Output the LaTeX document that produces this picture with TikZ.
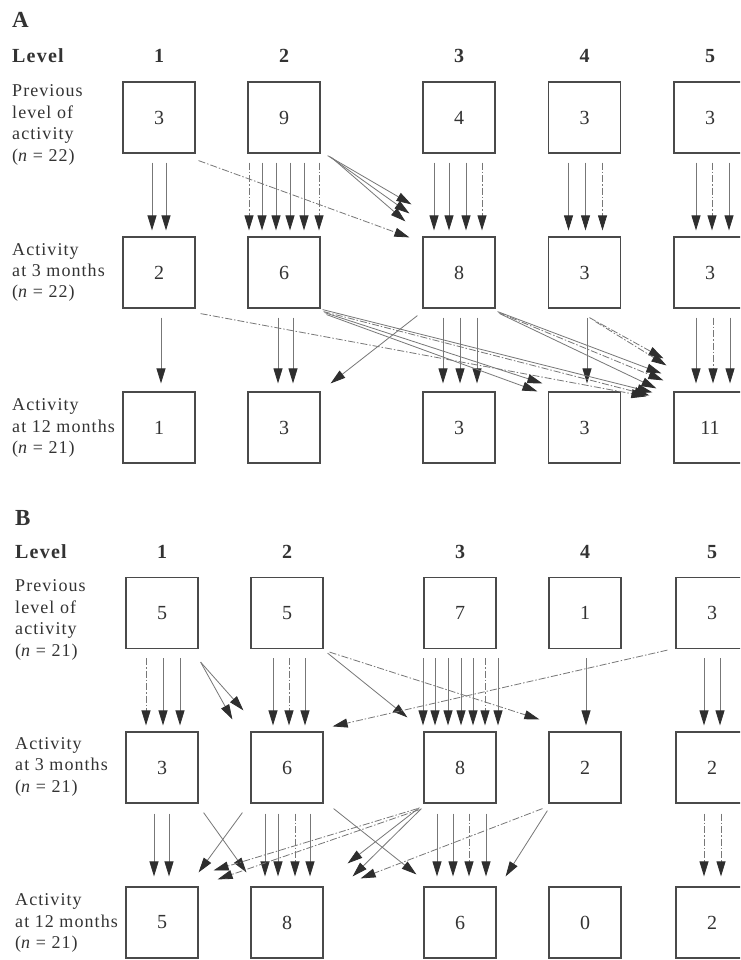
\documentclass[tikz,border=0pt]{standalone}
\usepackage{fontspec}
\setmainfont{Liberation Serif}
\newfontfamily\labfont[LetterSpace=6]{Liberation Serif}
\usetikzlibrary{arrows.meta}
\definecolor{ink}{HTML}{333333}
\definecolor{wire}{HTML}{777777}
\definecolor{tipc}{HTML}{2e2e2e}
\definecolor{frame}{HTML}{4a4a4a}

\begin{document}
\begin{tikzpicture}[x=1pt,y=-1pt,
  box/.style={draw=frame, line width=1.2pt, minimum width=72pt, minimum height=71pt,
    inner sep=0pt, font=\fontsize{20}{24}\selectfont, text=ink},
  lab/.style={anchor=base west, inner sep=0pt, font=\labfont\fontsize{18}{22}\selectfont, text=ink},
  head/.style={anchor=base, inner sep=0pt, font=\labfont\bfseries\fontsize{20}{24}\selectfont, text=ink},
  panel/.style={anchor=base west, inner sep=0pt, font=\bfseries\fontsize{23}{26}\selectfont, text=ink},
  arr/.style={draw=wire, line width=0.8pt, -{Triangle[length=15pt,width=9pt,color=tipc]}},
  dd/.style={dash pattern=on 7pt off 2pt on 1.5pt off 2pt},
]
\path[use as bounding box, clip] (0,0) rectangle (740,960);
\fill[white] (0,0) rectangle (740,960);

% ---------------- Panel A ----------------
\node[panel] (pA) at (12,28) {A};
\node[head, anchor=base west] (lvA) at (12,63) {Level};
\foreach \c/\x in {1/159,2/284,3/459,4/584.5,5/710}
  \node[head] (hA\c) at (\x,63) {\c};

\node[lab] (a1a) at (12,97) {Previous};
\node[lab] (a1b) at (12,118.5) {level of};
\node[lab] (a1c) at (12,140) {activity};
\node[lab] (a1d) at (12,161.5) {({\itshape n} = 22)};
\node[lab] (a2a) at (12,255) {Activity};
\node[lab] (a2b) at (12,276) {at 3 months};
\node[lab] (a2c) at (12,297) {({\itshape n} = 22)};
\node[lab] (a3a) at (12,410) {Activity};
\node[lab] (a3b) at (12,432) {at 12 months};
\node[lab] (a3c) at (12,453) {({\itshape n} = 21)};

\foreach \c/\x/\v in {1/159/3,2/284/9,3/459/4,4/584.5/3,5/710/3}
  \node[box] (A1\c) at (\x,117.5) {\v};
\foreach \c/\x/\v in {1/159/2,2/284/6,3/459/8,4/584.5/3,5/710/3}
  \node[box] (A2\c) at (\x,272.5) {\v};
\foreach \c/\x/\v in {1/159/1,2/284/3,3/459/3,4/584.5/3,5/710/11}
  \node[box] (A3\c) at (\x,427.5) {\v};

% straight drops, previous level -> 3 months
\foreach \d in {-7,7}
  \draw[arr] ([xshift=\d pt,yshift=-9pt]A11.south) -- ([xshift=\d pt,yshift=6pt]A21.north);
\foreach \d in {-22,-8,6,20}
  \draw[arr] ([xshift=\d pt,yshift=-9pt]A12.south) -- ([xshift=\d pt,yshift=6pt]A22.north);
\foreach \d in {-35,35}
  \draw[arr,dd] ([xshift=\d pt,yshift=-9pt]A12.south) -- ([xshift=\d pt,yshift=6pt]A22.north);
\foreach \d in {-25,-10,7}
  \draw[arr] ([xshift=\d pt,yshift=-9pt]A13.south) -- ([xshift=\d pt,yshift=6pt]A23.north);
\foreach \d in {23}
  \draw[arr,dd] ([xshift=\d pt,yshift=-9pt]A13.south) -- ([xshift=\d pt,yshift=6pt]A23.north);
\foreach \d in {-16,1}
  \draw[arr] ([xshift=\d pt,yshift=-9pt]A14.south) -- ([xshift=\d pt,yshift=6pt]A24.north);
\foreach \d in {18}
  \draw[arr,dd] ([xshift=\d pt,yshift=-9pt]A14.south) -- ([xshift=\d pt,yshift=6pt]A24.north);
\foreach \d in {-14,19}
  \draw[arr] ([xshift=\d pt,yshift=-9pt]A15.south) -- ([xshift=\d pt,yshift=6pt]A25.north);
\foreach \d in {2}
  \draw[arr,dd] ([xshift=\d pt,yshift=-9pt]A15.south) -- ([xshift=\d pt,yshift=6pt]A25.north);

% moves between levels, previous level -> 3 months
\draw[arr,dd] ([xshift=3pt,yshift=-7pt]A11.south east) -- ([xshift=-13pt,yshift=-1pt]A23.north west);
\draw[arr] ([xshift=7pt,yshift=-2pt]A12.south east) -- ([xshift=-11pt,yshift=32pt]A23.north west);
\draw[arr] ([xshift=9pt,yshift=-3pt]A12.south east) -- ([xshift=-13pt,yshift=23pt]A23.north west);
\draw[arr] ([xshift=11pt,yshift=-4pt]A12.south east) -- ([xshift=-17pt,yshift=15pt]A23.north west);

% straight drops, 3 months -> 12 months
\draw[arr] ([xshift=2pt,yshift=-9pt]A21.south) -- ([xshift=2pt,yshift=8pt]A31.north);
\foreach \d in {-6,9}
  \draw[arr] ([xshift=\d pt,yshift=-9pt]A22.south) -- ([xshift=\d pt,yshift=8pt]A32.north);
\foreach \d in {-16,1,18}
  \draw[arr] ([xshift=\d pt,yshift=-9pt]A23.south) -- ([xshift=\d pt,yshift=8pt]A33.north);
\draw[arr] ([xshift=2.5pt,yshift=-9pt]A24.south) -- ([xshift=2.5pt,yshift=8pt]A34.north);
\foreach \d in {-14,20}
  \draw[arr] ([xshift=\d pt,yshift=-9pt]A25.south) -- ([xshift=\d pt,yshift=8pt]A35.north);
\draw[arr,dd] ([xshift=3pt,yshift=-9pt]A25.south) -- ([xshift=3pt,yshift=8pt]A35.north);

% moves between levels, 3 months -> 12 months
\draw[arr,dd] ([xshift=5pt,yshift=-5pt]A21.south east) -- ([xshift=-27pt,yshift=-5pt]A35.north west);
\draw[arr] ([xshift=4pt,yshift=-4pt]A22.south east) -- ([xshift=-5.5pt,yshift=8pt]A34.north west);
\draw[arr] ([xshift=6pt,yshift=-6pt]A22.south east) -- ([xshift=-10.5pt,yshift=0pt]A34.north west);
\draw[arr] ([xshift=2pt,yshift=-1pt]A22.south east) -- ([xshift=-21pt,yshift=-1pt]A35.north west);
\draw[arr,dd] ([xshift=3pt,yshift=-3pt]A22.south east) -- ([xshift=-24pt,yshift=-4pt]A35.north west);
\draw[arr] ([xshift=2pt,yshift=-3pt]A23.south east) -- ([xshift=-12pt,yshift=18pt]A35.north west);
\draw[arr,dd] ([xshift=3pt,yshift=-4pt]A23.south east) -- ([xshift=-10pt,yshift=11pt]A35.north west);
\draw[arr] ([xshift=4pt,yshift=-5pt]A23.south east) -- ([xshift=-17pt,yshift=3pt]A35.north west);
\draw[arr,dd] ([xshift=41.5pt,yshift=-9pt]A24.south west) -- ([xshift=-10pt,yshift=33pt]A35.north west);
\draw[arr,dd] ([xshift=47.5pt,yshift=-13pt]A24.south west) -- ([xshift=-7pt,yshift=26pt]A35.north west);
\draw[arr] ([xshift=-5pt,yshift=-7pt]A23.south west) -- ([xshift=10pt,yshift=8pt]A32.north east);

% ---------------- Panel B ----------------
\node[panel] (pB) at (15,525) {B};
\node[head, anchor=base west] (lvB) at (15,558) {Level};
\foreach \c/\x in {1/162,2/287,3/460,4/585,5/712}
  \node[head] (hB\c) at (\x,558) {\c};

\node[lab] (b1a) at (15,591) {Previous};
\node[lab] (b1b) at (15,613) {level of};
\node[lab] (b1c) at (15,634) {activity};
\node[lab] (b1d) at (15,656) {({\itshape n} = 21)};
\node[lab] (b2a) at (15,749) {Activity};
\node[lab] (b2b) at (15,770) {at 3 months};
\node[lab] (b2c) at (15,792) {({\itshape n} = 21)};
\node[lab] (b3a) at (15,905) {Activity};
\node[lab] (b3b) at (15,927) {at 12 months};
\node[lab] (b3c) at (15,948) {({\itshape n} = 21)};

\foreach \c/\x/\v in {1/162/5,2/287/5,3/460/7,4/585/1,5/712/3}
  \node[box] (B1\c) at (\x,613) {\v};
\foreach \c/\x/\v in {1/162/3,2/287/6,3/460/8,4/585/2,5/712/2}
  \node[box] (B2\c) at (\x,767.5) {\v};
\foreach \c/\x/\v in {1/162/5,2/287/8,3/460/6,4/585/0,5/712/2}
  \node[box] (B3\c) at (\x,922.5) {\v};

% straight drops, previous level -> 3 months
\foreach \d in {1,18}
  \draw[arr] ([xshift=\d pt,yshift=-9pt]B11.south) -- ([xshift=\d pt,yshift=6pt]B21.north);
\draw[arr,dd] ([xshift=-16pt,yshift=-9pt]B11.south) -- ([xshift=-16pt,yshift=6pt]B21.north);
\foreach \d in {-14,18}
  \draw[arr] ([xshift=\d pt,yshift=-9pt]B12.south) -- ([xshift=\d pt,yshift=6pt]B22.north);
\draw[arr,dd] ([xshift=2pt,yshift=-9pt]B12.south) -- ([xshift=2pt,yshift=6pt]B22.north);
\foreach \d in {-37,-25,-12,1,13,38}
  \draw[arr] ([xshift=\d pt,yshift=-9pt]B13.south) -- ([xshift=\d pt,yshift=6pt]B23.north);
\draw[arr,dd] ([xshift=25pt,yshift=-9pt]B13.south) -- ([xshift=25pt,yshift=6pt]B23.north);
\draw[arr] ([xshift=1pt,yshift=-9pt]B14.south) -- ([xshift=1pt,yshift=6pt]B24.north);
\foreach \d in {-8,8}
  \draw[arr] ([xshift=\d pt,yshift=-9pt]B15.south) -- ([xshift=\d pt,yshift=6pt]B25.north);

% moves between levels, previous level -> 3 months
\draw[arr] ([xshift=2pt,yshift=-13pt]B11.south east) -- ([xshift=-18pt,yshift=12pt]B22.north west);
\draw[arr] ([xshift=2pt,yshift=-13pt]B11.south east) -- ([xshift=-7pt,yshift=21pt]B22.north west);
\draw[arr] ([xshift=4pt,yshift=-4pt]B12.south east) -- ([xshift=-16pt,yshift=14pt]B23.north west);
\draw[arr,dd] ([xshift=6pt,yshift=-3pt]B12.south east) -- ([xshift=-9pt,yshift=12pt]B24.north west);
\draw[arr,dd] ([xshift=-8pt,yshift=-1pt]B15.south west) -- ([xshift=9pt,yshift=5pt]B22.north east);

% straight drops, 3 months -> 12 months
\foreach \d in {-8,7}
  \draw[arr] ([xshift=\d pt,yshift=-10pt]B21.south) -- ([xshift=\d pt,yshift=10pt]B31.north);
\foreach \d in {-22,-9,23}
  \draw[arr] ([xshift=\d pt,yshift=-10pt]B22.south) -- ([xshift=\d pt,yshift=10pt]B32.north);
\draw[arr,dd] ([xshift=8pt,yshift=-10pt]B22.south) -- ([xshift=8pt,yshift=10pt]B32.north);
\foreach \d in {-23,-7,26}
  \draw[arr] ([xshift=\d pt,yshift=-10pt]B23.south) -- ([xshift=\d pt,yshift=10pt]B33.north);
\draw[arr,dd] ([xshift=9pt,yshift=-10pt]B23.south) -- ([xshift=9pt,yshift=10pt]B33.north);
\foreach \d in {-8,9}
  \draw[arr,dd] ([xshift=\d pt,yshift=-10pt]B25.south) -- ([xshift=\d pt,yshift=10pt]B35.north);

% moves between levels, 3 months -> 12 months
\draw[arr] ([xshift=5pt,yshift=-9pt]B21.south east) -- ([xshift=-4pt,yshift=14pt]B32.north west);
\draw[arr] ([xshift=-8pt,yshift=-9pt]B22.south west) -- ([xshift=0pt,yshift=14pt]B31.north east);
\draw[arr] ([xshift=10pt,yshift=-5pt]B22.south east) -- ([xshift=-7pt,yshift=12pt]B33.north west);
\draw[arr,dd] ([xshift=-6pt,yshift=-5pt]B23.south west) -- ([xshift=15pt,yshift=16pt]B31.north east);
\draw[arr,dd] ([xshift=-4pt,yshift=-6pt]B23.south west) -- ([xshift=19pt,yshift=7pt]B31.north east);
\draw[arr] ([xshift=-4pt,yshift=-4pt]B23.south west) -- ([xshift=24pt,yshift=23pt]B32.north east);
\draw[arr] ([xshift=-2pt,yshift=-5pt]B23.south west) -- ([xshift=29pt,yshift=10pt]B32.north east);
\draw[arr,dd] ([xshift=-6pt,yshift=-5pt]B24.south west) -- ([xshift=37pt,yshift=8pt]B32.north east);
\draw[arr] ([xshift=-1pt,yshift=-7pt]B24.south west) -- ([xshift=9pt,yshift=10pt]B33.north east);
\end{tikzpicture}
\end{document}
